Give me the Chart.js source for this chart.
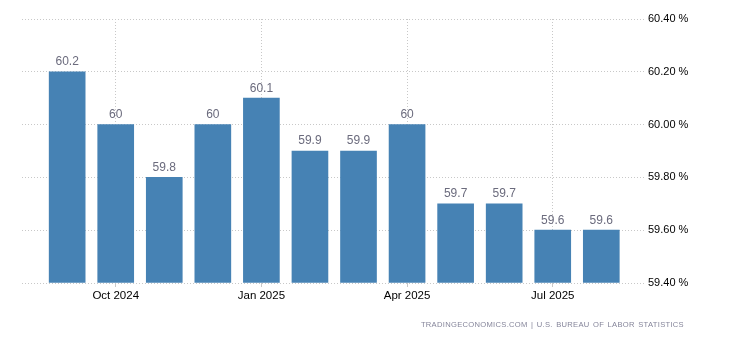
<!DOCTYPE html>
<html>
<head>
<meta charset="utf-8">
<script src="https://cdn.jsdelivr.net/npm/chart.js@4/dist/chart.umd.min.js"></script>
<style>
  html, body { margin: 0; padding: 0; background: #fff; }
  #wrap { position: relative; width: 730px; height: 340px; }
  #source {
    position: absolute; right: 46px; top: 320px;
    font: 7.6px "Liberation Sans", Arial, sans-serif; color: #85859a;
    letter-spacing: 0.3px; word-spacing: 1px; white-space: nowrap;
  }
</style>
</head>
<body>
<div id="wrap">
  <canvas id="participationChart" width="730" height="340"></canvas>
  <div id="source">TRADINGECONOMICS.COM | U.S. BUREAU OF LABOR STATISTICS</div>
</div>
<script>
// monthly labor force participation rate, Sep 2024 - Aug 2025
const months = ['Sep 2024', 'Oct 2024', 'Nov 2024', 'Dec 2024', 'Jan 2025', 'Feb 2025',
                'Mar 2025', 'Apr 2025', 'May 2025', 'Jun 2025', 'Jul 2025', 'Aug 2025'];
const rate = [60.2, 60, 59.8, 60, 60.1, 59.9, 59.9, 60, 59.7, 59.7, 59.6, 59.6];
const xTickIndex = [1, 4, 7, 10];
const yTicks = [59.4, 59.6, 59.8, 60.0, 60.2, 60.4];

const fontFamily = '"Liberation Sans", Arial, sans-serif';
const gridColor = '#c8c8c8';

// value labels above each bar
const valueLabels = {
    id: 'valueLabels',
    afterDatasetsDraw(chart) {
        const ctx = chart.ctx;
        const meta = chart.getDatasetMeta(0);
        ctx.save();
        ctx.font = '12px ' + fontFamily;
        ctx.fillStyle = '#6b6b7d';
        ctx.textAlign = 'center';
        ctx.textBaseline = 'bottom';
        meta.data.forEach((bar, i) => {
            ctx.fillText(String(rate[i]), bar.x, bar.y - 4);
        });
        ctx.restore();
    }
};

const ctx = document.getElementById('participationChart').getContext('2d');
const myChart = new Chart(ctx, {
    type: 'bar',
    data: {
        datasets: [{
            label: 'Labor Force Participation Rate',
            data: rate.map((v, i) => ({ x: i, y: v })),
            backgroundColor: '#4682b4',
            barThickness: 36,
            base: 59.4
        }]
    },
    options: {
        responsive: false,
        animation: false,
        layout: { padding: { left: 22, top: 19, right: 0, bottom: 0 } },
        plugins: {
            legend: { display: false },
            tooltip: { enabled: false }
        },
        scales: {
            x: {
                type: 'linear',
                min: -0.93,
                max: 11.9,
                offset: false,
                afterBuildTicks: (axis) => {
                    axis.ticks = xTickIndex.map(v => ({ value: v }));
                },
                afterFit: (axis) => { axis.height = 57; },
                ticks: {
                    autoSkip: false,
                    maxRotation: 0,
                    padding: 2,
                    color: '#000',
                    font: { family: fontFamily, size: 11.5 },
                    callback: (v) => months[v]
                },
                grid: {
                    offset: false,
                    color: gridColor,
                    tickLength: 4,
                    tickColor: gridColor
                },
                border: { display: false, dash: [1, 2] }
            },
            y: {
                position: 'right',
                min: 59.4,
                max: 60.4,
                afterBuildTicks: (axis) => {
                    axis.ticks = yTicks.map(v => ({ value: v }));
                },
                afterFit: (axis) => { axis.width = 85; },
                ticks: {
                    padding: 3,
                    color: '#000',
                    font: { family: fontFamily, size: 11 },
                    callback: (v) => v.toFixed(2) + ' %'
                },
                grid: {
                    color: gridColor,
                    drawTicks: false
                },
                border: { display: false, dash: [1, 2] }
            }
        }
    },
    plugins: [valueLabels]
});
</script>
</body>
</html>
